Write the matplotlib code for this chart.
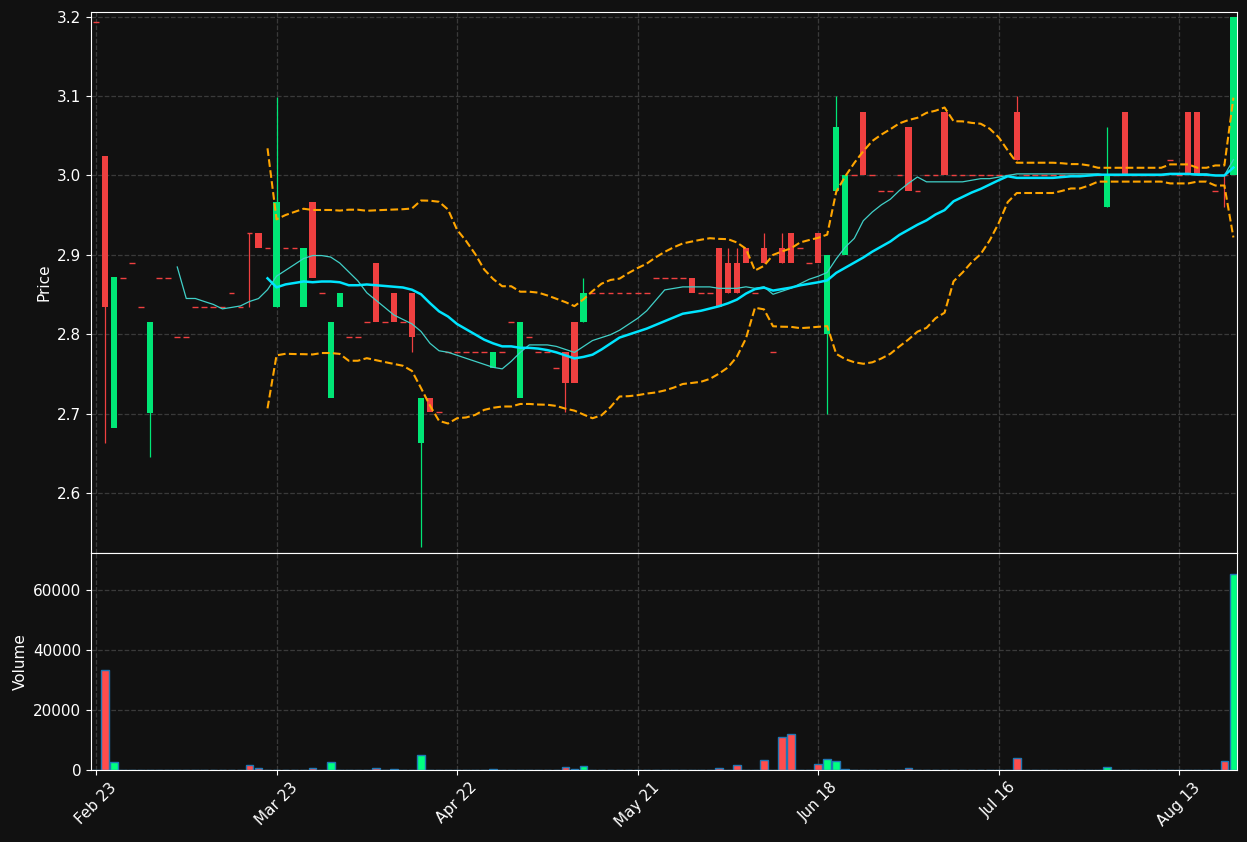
import matplotlib
matplotlib.use("Agg")
import matplotlib.pyplot as plt
import numpy as np
import pandas as pd

closes = [3.193,2.834,2.872,2.871,2.890,2.834,2.815,2.871,2.871,2.796,
          2.796,2.834,2.834,2.834,2.834,2.852,2.834,2.927,2.908,2.908,
          2.966,2.908,2.908,2.909,2.871,2.852,2.815,2.852,2.796,2.796,
          2.815,2.815,2.815,2.815,2.815,2.796,2.720,2.702,2.702,2.777,
          2.777,2.777,2.777,2.777,2.777,2.777,2.815,2.815,2.796,2.777,
          2.777,2.758,2.739,2.739,2.852,2.852,2.852,2.852,2.852,2.852,
          2.852,2.852,2.871,2.871,2.871,2.871,2.852,2.852,2.852,2.834,
          2.852,2.852,2.890,2.852,2.890,2.777,2.890,2.890,2.909,2.890,
          2.890,2.900,3.061,3.000,3.000,3.000,3.000,2.980,2.980,3.000,
          2.980,2.980,3.000,3.000,3.000,3.000,3.000,3.000,3.000,3.000,
          3.000,3.000,3.020,3.000,3.000,3.000,3.000,3.000,3.000,3.000,
          3.000,3.000,3.000,3.000,3.000,3.000,3.000,3.000,3.000,3.020,
          3.000,3.000,3.000,3.000,2.980,3.000,3.200]
opens = [3.193,3.024,2.682,2.871,2.890,2.834,2.701,2.871,2.871,2.796,
         2.796,2.834,2.834,2.834,2.834,2.852,2.834,2.927,2.927,2.908,
         2.834,2.908,2.908,2.834,2.966,2.852,2.720,2.834,2.796,2.796,
         2.815,2.890,2.815,2.852,2.815,2.852,2.663,2.720,2.702,2.777,
         2.777,2.777,2.777,2.777,2.758,2.777,2.815,2.720,2.796,2.777,
         2.777,2.758,2.777,2.815,2.815,2.852,2.852,2.852,2.852,2.852,
         2.852,2.852,2.871,2.871,2.871,2.871,2.871,2.852,2.852,2.909,
         2.890,2.890,2.909,2.852,2.909,2.777,2.909,2.927,2.909,2.890,
         2.927,2.800,2.980,2.900,3.000,3.080,3.000,2.980,2.980,3.000,
         3.061,2.980,3.000,3.000,3.080,3.000,3.000,3.000,3.000,3.000,
         3.000,3.000,3.080,3.000,3.000,3.000,3.000,3.000,3.000,3.000,
         3.000,3.000,2.960,3.000,3.080,3.000,3.000,3.000,3.000,3.020,
         3.000,3.080,3.080,3.000,2.980,3.000,3.000]
wick_high_days = [17, 20, 54, 70, 71, 74, 76, 82, 102, 112]
wick_high_vals = [2.927, 3.099, 2.871, 2.909, 2.909, 2.927, 2.927, 3.100, 3.100, 3.061]
wick_low_days = [1, 6, 17, 35, 36, 52, 81, 125]
wick_low_vals = [2.663, 2.645, 2.834, 2.777, 2.532, 2.702, 2.700, 2.960]
volume_days = [1, 2, 17, 18, 24, 26, 31, 33, 36, 44, 52, 53, 54, 69, 71, 74, 76, 77,
               80, 81, 82, 83, 90, 102, 112, 125, 126]
volume_vals = [33430, 2770, 1550, 550, 550, 2770, 550, 200, 4870, 200, 890, 200, 1220,
               550, 1550, 3210, 10850, 11850, 1880, 3540, 2880, 200, 550, 3870, 890, 2880, 65300]
tick_pos = [0, 20, 40, 60, 80, 100, 120]
tick_labels = ["Feb 23", "Mar 23", "Apr 22", "May 21", "Jun 18", "Jul 16", "Aug 13"]

n = len(closes)
highs = [max(o, c) for o, c in zip(opens, closes)]
lows = [min(o, c) for o, c in zip(opens, closes)]
for d, v in zip(wick_high_days, wick_high_vals):
    highs[d] = v
for d, v in zip(wick_low_days, wick_low_vals):
    lows[d] = v
volumes = [0] * n
for d, v in zip(volume_days, volume_vals):
    volumes[d] = v

s = pd.Series(closes)
ma10 = s.rolling(10).mean()
ma20 = s.rolling(20).mean()
sd20 = s.rolling(20).std(ddof=0)
bb_up = ma20 + 2 * sd20
bb_lo = ma20 - 2 * sd20

BG = "#111111"
UP = "#00e676"
DN = "#ef4040"
fig = plt.figure(figsize=(12.47, 8.42), dpi=100, facecolor=BG)
ax = fig.add_axes([0.073, 0.343, 0.919, 0.643], facecolor=BG)
axv = fig.add_axes([0.073, 0.0855, 0.919, 0.2575], facecolor=BG, sharex=ax)

x = np.arange(n)
for i in range(n):
    o, c, h, l = opens[i], closes[i], highs[i], lows[i]
    col = UP if c > o else DN
    if h > max(o, c) or l < min(o, c):
        ax.vlines(i, l, h, color=col, lw=0.9, zorder=2)
    if abs(c - o) < 1e-9:
        ax.hlines(c, i - 0.32, i + 0.32, color=col, lw=1, zorder=3)
    else:
        ax.bar(i, abs(c - o), bottom=min(o, c), width=0.7, color=col, zorder=3)

ax.plot(x, ma10, color="#40d0c8", lw=0.9, zorder=4)
ax.plot(x, ma20, color="#00e5ff", lw=1.8, zorder=4)
ax.plot(x, bb_up, color="#ffa500", lw=1.5, ls="--", zorder=4)
ax.plot(x, bb_lo, color="#ffa500", lw=1.5, ls="--", zorder=4)

vcols = ["#00ff80" if closes[i] > opens[i] else "#ff4d4d" for i in range(n)]
axv.bar(x, volumes, width=0.85, color=vcols, edgecolor="#1f77b4", linewidth=1)

ax.set_xlim(-0.55, n - 0.6)
ax.set_ylim(2.524, 3.2063)
axv.set_ylim(0, 72300)
ax.set_yticks([2.6, 2.7, 2.8, 2.9, 3.0, 3.1, 3.2])
axv.set_yticks([0, 20000, 40000, 60000])
axv.set_xticks(tick_pos)
axv.set_xticklabels(tick_labels, rotation=45)
plt.setp(ax.get_xticklabels(), visible=False)
ax.set_ylabel("Price", color="white", fontsize=11)
axv.set_ylabel("Volume", color="white", fontsize=11)

for a in (ax, axv):
    a.grid(True, color="#3a3a3a", ls="--", lw=0.9)
    a.set_axisbelow(True)
    a.tick_params(colors="white", labelsize=11)
    for sp in a.spines.values():
        sp.set_color("white")

fig.savefig("out.png", dpi=100, facecolor=BG)
